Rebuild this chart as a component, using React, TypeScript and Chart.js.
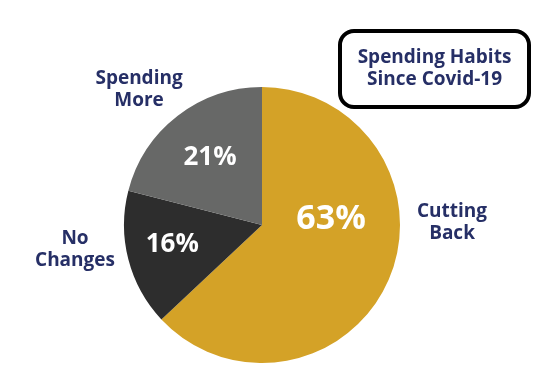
import React, { useEffect, useRef } from "react";
import { Chart, registerables } from "chart.js";

Chart.register(...registerables);

const categories = ["Cutting Back", "No Changes", "Spending More"];
const values = [63, 16, 21];
const colors = ["#d4a227", "#2d2d2d", "#676867"];
const outerLabels = [["Cutting", "Back"], ["No", "Changes"], ["Spending", "More"]];
const titleLines = ["Spending Habits", "Since Covid-19"];
// label placement relative to pie centre, in units of radius
const pctPos = [[0.5, -0.04, 34], [-0.65, 0.145, 26], [-0.377, -0.49, 26]];
const outerPos = [[1.377, -0.02], [-1.355, 0.18], [-0.891, -0.978]];

const NAVY = "#262f66";
const FONT = "'Open Sans', Lato, sans-serif";

const labelsPlugin = {
  id: "labelsPlugin",
  afterDraw(chart: any) {
    const ctx = chart.ctx;
    const meta = chart.getDatasetMeta(0);
    const arc0 = meta.data[0];
    const cx = arc0.x, cy = arc0.y, r = arc0.outerRadius;
    ctx.save();
    ctx.textAlign = "center";
    ctx.textBaseline = "middle";
    values.forEach((v, i) => {
      const [fx, fy, fs] = pctPos[i];
      ctx.fillStyle = "#ffffff";
      ctx.font = `bold ${fs}px ${FONT}`;
      ctx.fillText(`${v}%`, cx + fx * r, cy + fy * r);
      const [ox, oy] = outerPos[i];
      ctx.fillStyle = NAVY;
      ctx.font = `bold 19px ${FONT}`;
      const lines = outerLabels[i];
      lines.forEach((ln, j) => {
        ctx.fillText(ln, cx + ox * r, cy + oy * r + (j - (lines.length - 1) / 2) * 22);
      });
    });
    // title box
    const bx = 340, by = 31, bw = 189, bh = 76, br = 14;
    ctx.beginPath();
    ctx.lineWidth = 4;
    ctx.strokeStyle = "#000000";
    ctx.roundRect(bx, by, bw, bh, br);
    ctx.stroke();
    ctx.fillStyle = NAVY;
    ctx.font = `bold 19px ${FONT}`;
    titleLines.forEach((ln, j) => {
      ctx.fillText(ln, bx + bw / 2, by + bh / 2 + (j - 0.5) * 22);
    });
    ctx.restore();
  },
};

export default function App() {
  const ref = useRef<HTMLCanvasElement>(null);
  useEffect(() => {
    if (!ref.current) return;
    const chart = new Chart(ref.current, {
      type: "pie",
      data: {
        labels: categories,
        datasets: [
          {
            data: values,
            backgroundColor: colors,
            borderWidth: 0,
          },
        ],
      },
      options: {
        responsive: false,
        animation: false,
        layout: { padding: { left: 124, right: 158, top: 87, bottom: 23 } },
        plugins: { legend: { display: false }, tooltip: { enabled: false } },
      },
      plugins: [labelsPlugin],
    });
    return () => chart.destroy();
  }, []);
  return (
    <div style={{ position: "fixed", left: 0, top: 0, width: 558, height: 386, background: "#fff" }}>
      <canvas ref={ref} width={558} height={386} />
    </div>
  );
}
